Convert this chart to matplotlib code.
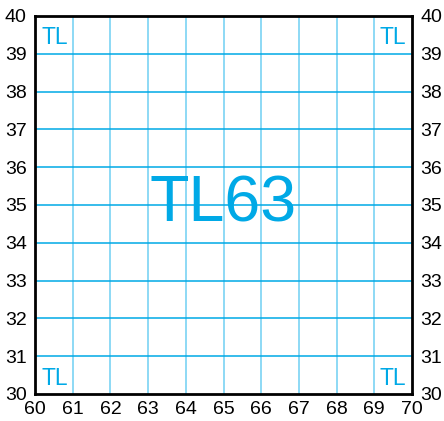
"""TL63 grid tile"""
import matplotlib.pyplot as plt
import numpy as np

plt.rcParams['font.family'] = ['Liberation Sans', 'DejaVu Sans']

CYAN = '#00a9e6'
CYAN_LIGHT = '#6fcff2'

x_ticks = np.arange(60, 71)
y_ticks = np.arange(30, 41)
tile_label = 'TL63'
corner_label = 'TL'

fig = plt.figure(figsize=(4.44, 4.21), dpi=100)
ax = fig.add_axes([35 / 444, 27 / 421, 377 / 444, 378 / 421])
ax.set_xlim(60, 70)
ax.set_ylim(30, 40)

for xv in x_ticks[1:-1]:
    ax.axvline(xv, color=CYAN_LIGHT, lw=1.1, zorder=1)
for yv in y_ticks[1:-1]:
    ax.axhline(yv, color=CYAN, lw=1.1, zorder=1)

ax.set_xticks(x_ticks)
ax.set_yticks(y_ticks)
ax.tick_params(length=0, labelsize=14)
ax.tick_params(axis='x', pad=5)
ax.tick_params(axis='y', pad=6, right=True, labelright=True)
for s in ax.spines.values():
    s.set_linewidth(2)

ax.text(65, 35, tile_label, color=CYAN, fontsize=46.5, ha='center', va='center')
kw = dict(color=CYAN, fontsize=16.5, va='baseline')
ax.text(60.16, 39.26, corner_label, ha='left', **kw)
ax.text(69.84, 39.26, corner_label, ha='right', **kw)
ax.text(60.16, 30.24, corner_label, ha='left', **kw)
ax.text(69.84, 30.24, corner_label, ha='right', **kw)

fig.savefig('out.png', dpi=100)
